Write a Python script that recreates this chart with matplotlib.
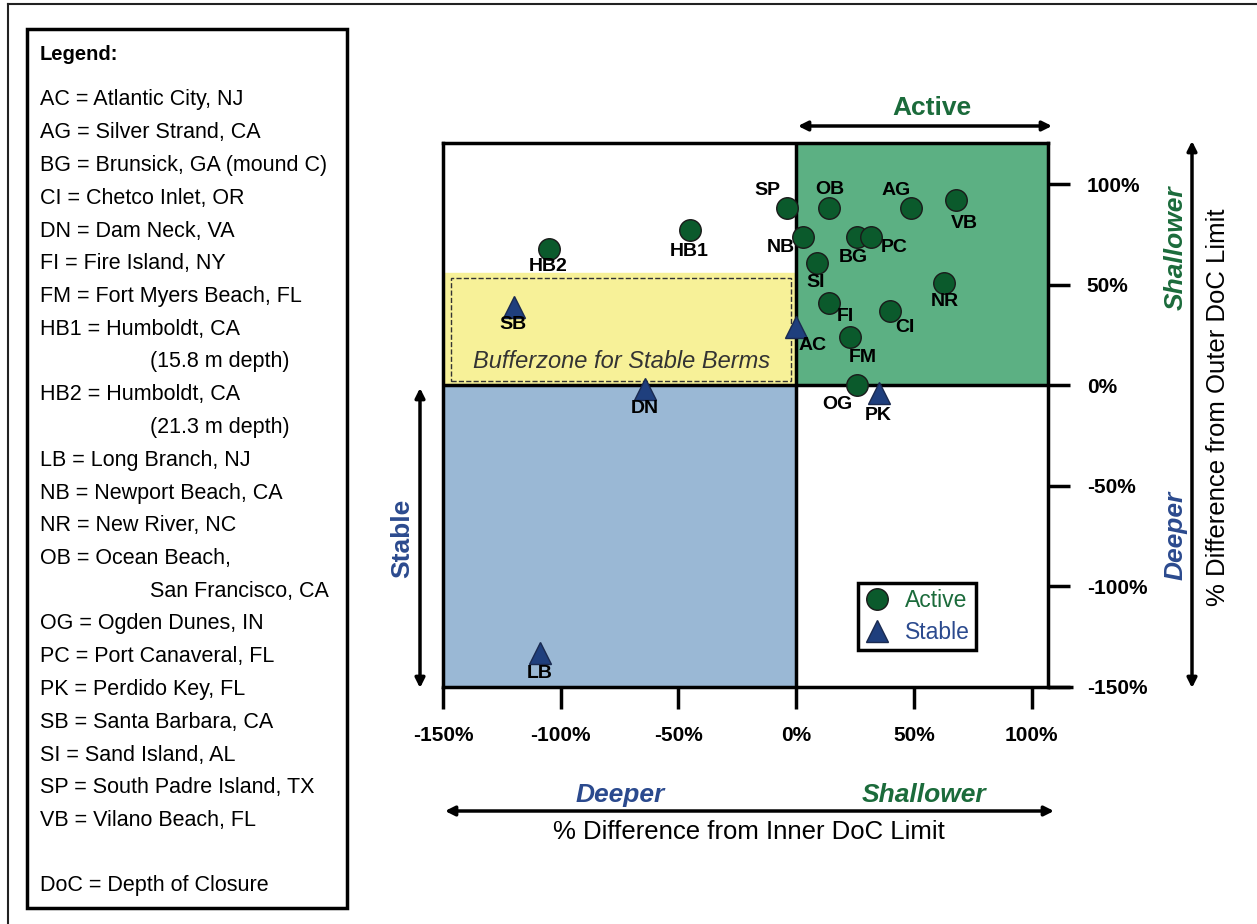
import matplotlib
matplotlib.use("Agg")
import matplotlib.pyplot as plt
from matplotlib.patches import Rectangle, FancyArrowPatch
from matplotlib.lines import Line2D

plt.rcParams['font.family'] = ['Liberation Sans', 'DejaVu Sans']

# site data (% difference from inner / outer DoC limit)
sites = ['SP', 'OB', 'AG', 'VB', 'NB', 'BG', 'PC', 'SI', 'NR', 'FI', 'CI', 'FM', 'OG',
         'HB1', 'HB2', 'PK', 'AC', 'SB', 'DN', 'LB']
x_inner = [-4, 14, 49, 68, 3, 26, 32, 9, 63, 14, 40, 23, 26,
           -45, -105, 35, 0, -120, -64, -109]
y_outer = [88, 88, 88, 92, 74, 74, 74, 61, 51, 41, 37, 24, 0,
           77, 68, -4, 29, 39, -2, -133]
status = ['Active'] * 15 + ['Stable'] * 5

x_ticks = [-150, -100, -50, 0, 50, 100]
y_ticks = [-150, -100, -50, 0, 50, 100]

legend_lines = [
    "AC = Atlantic City, NJ",
    "AG = Silver Strand, CA",
    "BG = Brunsick, GA (mound C)",
    "CI = Chetco Inlet, OR",
    "DN = Dam Neck, VA",
    "FI = Fire Island, NY",
    "FM = Fort Myers Beach, FL",
    "HB1 = Humboldt, CA",
    "\t(15.8 m depth)",
    "HB2 = Humboldt, CA",
    "\t(21.3 m depth)",
    "LB = Long Branch, NJ",
    "NB = Newport Beach, CA",
    "NR = New River, NC",
    "OB = Ocean Beach,",
    "\tSan Francisco, CA",
    "OG = Ogden Dunes, IN",
    "PC = Port Canaveral, FL",
    "PK = Perdido Key, FL",
    "SB = Santa Barbara, CA",
    "SI = Sand Island, AL",
    "SP = South Padre Island, TX",
    "VB = Vilano Beach, FL",
    "",
    "DoC = Depth of Closure",
]

# label offsets in pixels (dx, dy)
label_offset = {
    'SP': (-19, 18), 'OB': (1, 19), 'AG': (-15, 18), 'VB': (8, -23),
    'NB': (-22, -11), 'BG': (-4, -21), 'PC': (23, -11), 'SI': (-2, -20),
    'NR': (0, -19), 'FI': (16, -14), 'CI': (15, -17), 'FM': (12, -20),
    'OG': (-20, -19), 'PK': (0, -22), 'AC': (16, -18), 'HB1': (-1, -21),
    'HB2': (-1, -18), 'SB': (-1, -18), 'DN': (-1, -19), 'LB': (0, -21),
}

green_fill = '#5cb083'
blue_fill = '#9ab8d5'
yellow_fill = '#f7f198'
green_mk = '#0b5a2c'
blue_mk = '#1f3f7d'
green_txt = '#1b6b3b'
blue_txt = '#2b4a8e'

W, H = 1257, 924
fig = plt.figure(figsize=(W / 100, H / 100), dpi=100)


def fx(px):
    return px / W


def fy(py):
    return 1 - py / H


ax = fig.add_axes([fx(443), fy(687), 605 / W, 544 / H])
xmax, ymax = 107, 120.5
ax.set_xlim(-150, xmax)
ax.set_ylim(-150, ymax)

# quadrant backgrounds
ax.add_patch(Rectangle((0, 0), xmax, ymax, color=green_fill, zorder=0))
ax.add_patch(Rectangle((-150, -150), 150, 150, color=blue_fill, zorder=0))
ax.add_patch(Rectangle((-150, 0), 150, 56, color=yellow_fill, zorder=0))
ax.add_patch(Rectangle((-146.5, 2.3), 144.4, 51.3, fill=False, ls='--',
                       lw=1, ec='#333333', zorder=1))
ax.text(-74, 12, 'Bufferzone for Stable Berms', style='italic', fontsize=17,
        color='#333333', ha='center', va='center', zorder=2)

ax.axvline(0, color='k', lw=2.5, zorder=2)
ax.axhline(0, color='k', lw=2.5, zorder=2)
for s in ax.spines.values():
    s.set_linewidth(2.5)
ax.plot([xmax, 117.5], [-150, -150], color='k', lw=2.5, clip_on=False,
        solid_capstyle='butt')

ax.set_xticks(x_ticks)
ax.set_xticklabels([f'{v}%' for v in x_ticks], fontweight='bold')
ax.set_yticks(y_ticks)
ax.set_yticklabels([f'{v}%' for v in y_ticks], fontweight='bold')
ax.yaxis.tick_right()
ax.tick_params(direction='out', length=16, width=2.5, labelsize=15, pad=12)

for name, x, y, st in zip(sites, x_inner, y_outer, status):
    if st == 'Active':
        ax.plot(x, y, 'o', ms=15.5, color=green_mk, mec='#1a1a1a', mew=1,
                zorder=5, clip_on=False)
    else:
        ax.plot(x, y, '^', ms=16, color=blue_mk, mec='#1a2a50', mew=1,
                zorder=5, clip_on=False)
    ax.annotate(name, (x, y), xytext=label_offset[name], textcoords='offset pixels',
                ha='center', va='center', fontsize=14, fontweight='bold', zorder=6)

handles = [Line2D([], [], marker='o', ls='', ms=15.5, color=green_mk, mec='#1a1a1a'),
           Line2D([], [], marker='^', ls='', ms=16, color=blue_mk, mec='#1a2a50')]
leg = fig.legend(handles, ['Active', 'Stable'], loc='upper left',
                 bbox_to_anchor=(fx(858), fy(583)), fancybox=False, edgecolor='k',
                 fontsize=16.5, handletextpad=0.6, borderpad=0.25, labelspacing=0.4,
                 handlelength=1.2, borderaxespad=0, framealpha=1)
leg.get_frame().set_linewidth(2.5)
for t, c in zip(leg.get_texts(), [green_txt, blue_txt]):
    t.set_color(c)


def arrow(p0, p1):
    fig.add_artist(FancyArrowPatch((fx(p0[0]), fy(p0[1])), (fx(p1[0]), fy(p1[1])),
                                   transform=fig.transFigure, arrowstyle='<|-|>',
                                   mutation_scale=14, lw=2.5, color='k',
                                   shrinkA=0, shrinkB=0))


arrow((798, 126), (1052, 126))
arrow((1192, 141), (1192, 688))
arrow((420, 388), (420, 688))
arrow((445, 811), (1054, 811))

fig.text(fx(932), fy(108), 'Active', color=green_txt, fontsize=19, fontweight='bold',
         ha='center', va='center')
fig.text(fx(1176), fy(248), 'Shallower', color=green_txt, fontsize=19, fontweight='bold',
         style='italic', rotation=90, ha='center', va='center')
fig.text(fx(1176), fy(535), 'Deeper', color=blue_txt, fontsize=19, fontweight='bold',
         style='italic', rotation=90, ha='center', va='center')
fig.text(fx(402), fy(538), 'Stable', color=blue_txt, fontsize=19, fontweight='bold',
         rotation=90, ha='center', va='center')
fig.text(fx(620), fy(795), 'Deeper', color=blue_txt, fontsize=19, fontweight='bold',
         style='italic', ha='center', va='center')
fig.text(fx(924), fy(795), 'Shallower', color=green_txt, fontsize=19, fontweight='bold',
         style='italic', ha='center', va='center')
fig.text(fx(749), fy(832), '% Difference from Inner DoC Limit', fontsize=18.5,
         ha='center', va='center')
fig.text(fx(1218), fy(407), '% Difference from Outer DoC Limit', fontsize=18.5,
         rotation=90, ha='center', va='center')

# outer frame and site legend box
fig.add_artist(Line2D([fx(8), 1], [fy(4), fy(4)], color='#222222', lw=1.5))
fig.add_artist(Line2D([fx(8), fx(8)], [fy(4), 0], color='#222222', lw=1.5))
fig.add_artist(Rectangle((fx(27), fy(908)), 320 / W, 879 / H, transform=fig.transFigure,
                         fill=False, lw=2.5, ec='k'))
fig.text(fx(40), fy(55), 'Legend:', fontsize=14.5, fontweight='bold', va='center')
for i, line in enumerate(legend_lines):
    xpos = 150 if line.startswith('\t') else 40
    fig.text(fx(xpos), fy(100 + i * 32.75), line.strip(), fontsize=15.5, va='center')

fig.savefig('out.png', dpi=100)
